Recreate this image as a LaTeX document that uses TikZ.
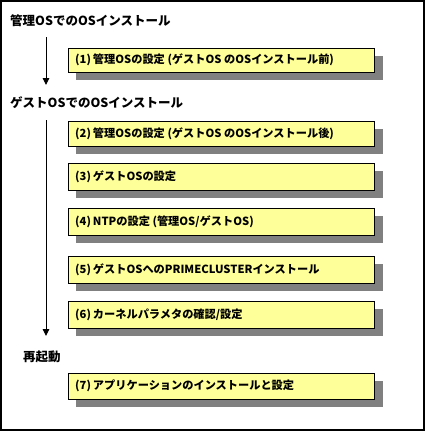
\documentclass[tikz,border=0pt]{standalone}
\usepackage{fontspec}
\newfontfamily\jp{Noto Sans CJK JP}
\usetikzlibrary{arrows.meta}
\definecolor{boxyellow}{HTML}{FFFF99}
\definecolor{shadowgray}{HTML}{808080}
\tikzset{
  title/.style={anchor=west,inner sep=0pt,font=\jp\bfseries\fontsize{12.5}{14}\selectfont},
  stepbox/.style={draw=black,line width=1pt,fill=boxyellow},
  boxshadow/.style={fill=shadowgray,draw=none},
  steptext/.style={anchor=west,inner sep=0pt,font=\jp\bfseries\fontsize{11.2}{12}\selectfont},
  flow/.style={line width=0.9pt,-{Triangle[width=6.5pt,length=7pt]}}
}
\begin{document}
\begin{tikzpicture}[x=1pt,y=-1pt]
\useasboundingbox (0,0) rectangle (426,431);
\draw[line width=1.3pt] (1,1) rectangle (424,430);
% titles
\node[title] (t1) at (10,21) {管理OSでのOSインストール};
\node[title] (t2) at (10,103) {ゲストOSでのOSインストール};
\node[title] (t3) at (23,357) {再起動};
% arrows
\coordinate (a1s) at (46,37);
\coordinate (a1e) at (46,85);
\coordinate (a2s) at (46,120);
\coordinate (a2e) at (46,336);
\draw[flow] (a1s) -- (a1e);
\draw[flow] (a2s) -- (a2e);
% boxes
\foreach \n/\top/\bot in {1/48/72,2/121/146,3/163/190,4/208/235,5/256/283,6/301/328,7/373/399}{
  \fill[boxshadow] (76,\top+8) rectangle (383,\bot+8);
  \draw[stepbox] (68,\top) rectangle (374,\bot);
  \coordinate (b\n) at (75,{(\top+\bot)/2});
}
\node[steptext] (s1) at (b1) {(1)\kern2pt 管理OSの設定 (ゲストOS のOSインストール前)};
\node[steptext] (s2) at (b2) {(2)\kern2pt 管理OSの設定 (ゲストOS のOSインストール後)};
\node[steptext] (s3) at (b3) {(3)\kern2pt ゲストOSの設定};
\node[steptext] (s4) at (b4) {(4)\kern2pt NTPの設定 (管理OS/ゲストOS)};
\node[steptext] (s5) at (b5) {(5)\kern2pt ゲストOSへのPRIMECLUSTERインストール};
\node[steptext] (s6) at (b6) {(6)\kern2pt カーネルパラメタの確認/設定};
\node[steptext] (s7) at (b7) {(7)\kern2pt アプリケーションのインストールと設定};
\end{tikzpicture}
\end{document}
